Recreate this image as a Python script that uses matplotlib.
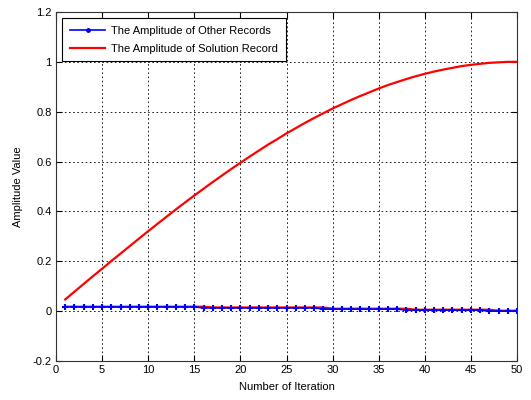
import numpy as np
import matplotlib
matplotlib.use("Agg")
import matplotlib.pyplot as plt

plt.rcParams["font.family"] = ["Liberation Sans", "DejaVu Sans"]
plt.rcParams["font.size"] = 8

### data ###
iteration = np.arange(1, 51)

amp_solution = [0.047, 0.078, 0.109, 0.140, 0.170, 0.201, 0.231, 0.261, 0.291, 0.321,
                0.350, 0.379, 0.408, 0.436, 0.464, 0.491, 0.518, 0.544, 0.570, 0.595,
                0.620, 0.644, 0.668, 0.690, 0.713, 0.734, 0.755, 0.775, 0.794, 0.813,
                0.830, 0.847, 0.863, 0.878, 0.893, 0.907, 0.919, 0.931, 0.942, 0.952,
                0.961, 0.969, 0.976, 0.983, 0.988, 0.992, 0.996, 0.998, 1.000, 1.000]

amp_other = [0.017]*15 + [0.013]*13 + [0.008]*9 + [0.004]*9 + [0.0]*4

# red trace that shows just above the blue one
amp_other_red = [0.018]*16 + [0.015]*13 + [0.010]*9 + [0.006]*9 + [0.002]*3

fig = plt.figure(figsize=(5.31, 4.0), dpi=100)
ax = fig.add_axes([56/531, 1-361/400, 461/531, 349/400])

ax.plot(iteration[:len(amp_other_red)], amp_other_red, color="red", lw=1.5)
ax.plot(iteration, amp_other, color="blue", lw=1.2, marker="+", ms=4, mew=1.5,
        label="The Amplitude of Other Records")
ax.plot(iteration, amp_solution, color="red", lw=1.6,
        label="The Amplitude of Solution Record")

ax.set_xlim(0, 50)
ax.set_ylim(-0.2, 1.2)
ax.set_xticks(np.arange(0, 51, 5))
ax.set_yticks(np.arange(-0.2, 1.21, 0.2))
ax.set_yticklabels(["-0.2", "0", "0.2", "0.4", "0.6", "0.8", "1", "1.2"])

ax.grid(True, color="black", linestyle=(0, (2, 3)), linewidth=0.6)
ax.tick_params(direction="in", top=True, right=True, length=4, labelsize=8, pad=3)
for s in ax.spines.values():
    s.set_color("#333333")
    s.set_linewidth(0.8)

ax.set_xlabel("Number of Iteration", fontsize=8, labelpad=5)
ax.set_ylabel("Amplitude Value", fontsize=8, labelpad=7)

leg = ax.legend(loc="upper left", bbox_to_anchor=(62/531, 1-18/400),
                bbox_transform=fig.transFigure, fontsize=8, fancybox=False,
                framealpha=1, edgecolor="black", handlelength=3.2, borderaxespad=0,
                borderpad=0.7, handletextpad=0.5, labelspacing=0.7)
leg.get_frame().set_linewidth(0.8)
leg.legend_handles[0].set_marker(".")
leg.legend_handles[0].set_markersize(4)

fig.savefig("out.png", dpi=100)
